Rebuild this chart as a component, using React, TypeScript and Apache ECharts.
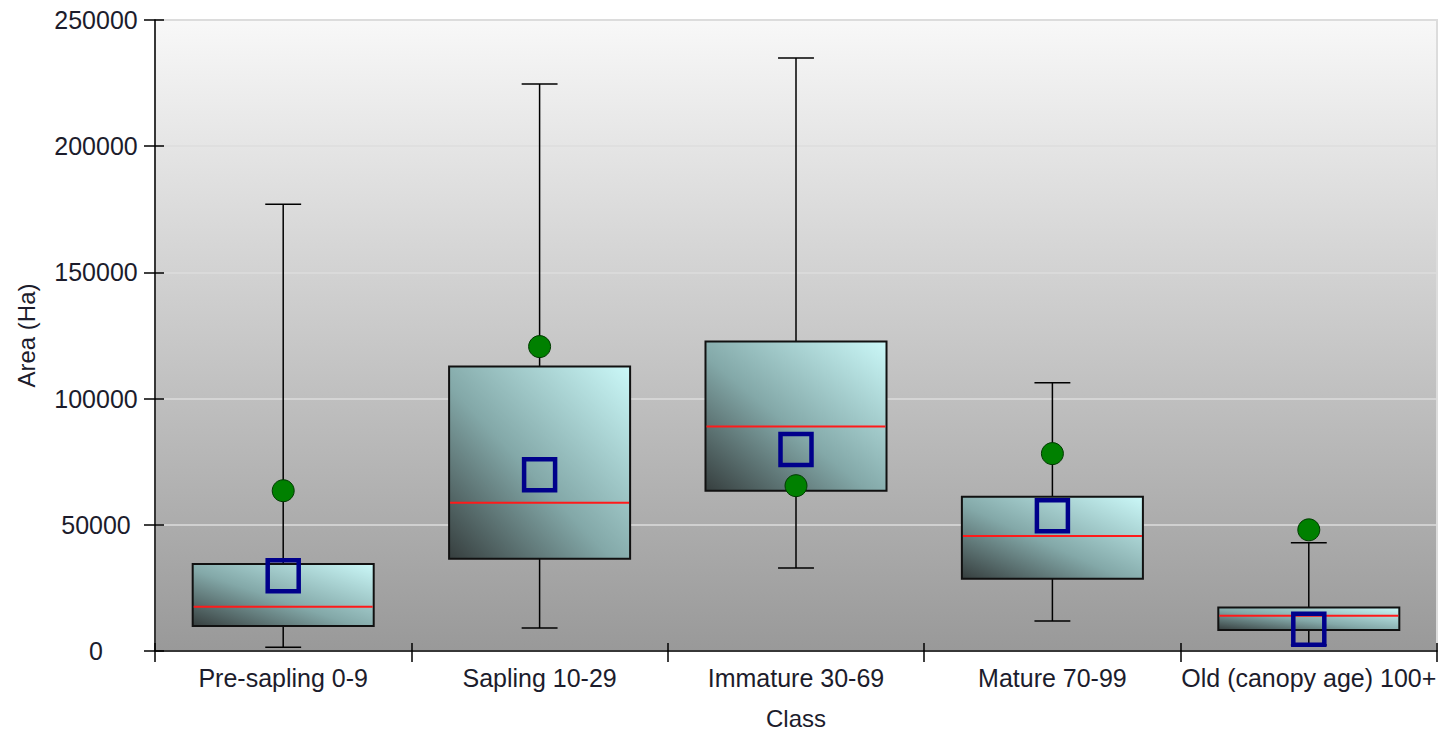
import React, { useEffect, useRef } from "react";
import * as echarts from "echarts";

const categories = ["Pre-sapling 0-9", "Sapling 10-29", "Immature 30-69", "Mature 70-99", "Old (canopy age) 100+"];
const whiskerLow = [1500, 9100, 32900, 11900, 2400];
const quartile1 = [9900, 36500, 63500, 28600, 8300];
const medians = [17500, 58700, 88900, 45600, 14000];
const quartile3 = [34500, 112700, 122600, 61100, 17200];
const whiskerHigh = [177000, 224600, 234900, 106300, 42900];
const greenPoints = [63500, 120600, 65500, 78200, 48000];
const bluePoints = [29800, 69800, 79800, 53600, 8600];
const yTicks = { min: 0, max: 250000, interval: 50000 };

const FONT = "'Liberation Sans', Arial, sans-serif";
const TEXT = "#1c1c2c";

export default function App() {
  const ref = useRef<HTMLDivElement>(null);
  useEffect(() => {
    if (!ref.current) return;
    const chart = echarts.init(ref.current, null, { renderer: "svg" });
    const boxData = categories.map((_, i) => [i, whiskerLow[i], quartile1[i], medians[i], quartile3[i], whiskerHigh[i]]);
    const boxFill = new echarts.graphic.LinearGradient(0, 1, 1, 0, [
      { offset: 0, color: "#363e3e" },
      { offset: 0.45, color: "#83a8a8" },
      { offset: 1, color: "#cbf8f8" },
    ]);
    const option: any = {
      animation: false,
      textStyle: { fontFamily: FONT },
      grid: {
        left: 155,
        right: 6,
        top: 20,
        bottom: 80,
        containLabel: false,
        outerBoundsMode: "none",
        show: true,
        borderColor: "#dcdcdc",
        borderWidth: 2,
        backgroundColor: new echarts.graphic.LinearGradient(0, 0, 0, 1, [
          { offset: 0, color: "#f8f8f8" },
          { offset: 1, color: "#999999" },
        ]),
      },
      xAxis: [
        {
          type: "category",
          data: categories,
          boundaryGap: true,
          name: "Class",
          nameLocation: "middle",
          nameGap: 55,
          nameTextStyle: { fontSize: 24, lineHeight: 24, color: TEXT, fontFamily: FONT },
          axisLine: { show: true, lineStyle: { color: "#000", width: 1.5 } },
          axisTick: { show: true, length: 11, alignWithLabel: false, lineStyle: { color: "#000", width: 1.5 } },
          axisLabel: { fontSize: 25, color: TEXT, margin: 14, fontFamily: FONT, interval: 0 },
          splitLine: { show: false },
        },
        {
          type: "category",
          data: categories,
          position: "bottom",
          boundaryGap: true,
          axisLine: { show: false },
          axisTick: { show: true, inside: true, length: 8, lineStyle: { color: "#000", width: 1.5 } },
          axisLabel: { show: false },
          splitLine: { show: false },
        },
      ],
      yAxis: [
        {
          type: "value",
          min: yTicks.min,
          max: yTicks.max,
          interval: yTicks.interval,
          name: "Area (Ha)",
          nameLocation: "middle",
          nameGap: 117,
          nameTextStyle: { fontSize: 24, color: TEXT, fontFamily: FONT },
          axisLine: { show: true, lineStyle: { color: "#000", width: 1.5 } },
          axisTick: { show: true, length: 11, lineStyle: { color: "#000", width: 1.5 } },
          axisLabel: {
            fontSize: 25,
            color: TEXT,
            margin: 59,
            align: "center",
            fontFamily: FONT,
            formatter: (v: number) => String(v),
          },
          splitLine: { show: true, lineStyle: { color: "#dcdcdc", width: 1.5 } },
        },
        {
          type: "value",
          min: yTicks.min,
          max: yTicks.max,
          interval: yTicks.interval,
          position: "left",
          axisLine: { show: false },
          axisTick: { show: true, inside: true, length: 9, lineStyle: { color: "#000", width: 1.5 } },
          axisLabel: { show: false },
          splitLine: { show: false },
        },
      ],
      series: [
        {
          type: "custom",
          data: boxData,
          encode: { x: 0, y: [1, 2, 3, 4, 5] },
          z: 2,
          renderItem: (params: any, api: any) => {
            const idx = api.value(0);
            const band = api.size([1, 0])[0];
            const bw = band * 0.706;
            const cw = band * 0.14;
            const pLow = api.coord([idx, api.value(1)]);
            const pQ1 = api.coord([idx, api.value(2)]);
            const pMed = api.coord([idx, api.value(3)]);
            const pQ3 = api.coord([idx, api.value(4)]);
            const pHigh = api.coord([idx, api.value(5)]);
            const cx = pQ1[0];
            const line = { stroke: "#000", lineWidth: 1.5 };
            return {
              type: "group",
              children: [
                { type: "line", shape: { x1: cx, y1: pHigh[1], x2: cx, y2: pQ3[1] }, style: line },
                { type: "line", shape: { x1: cx - cw / 2, y1: pHigh[1], x2: cx + cw / 2, y2: pHigh[1] }, style: line },
                { type: "line", shape: { x1: cx, y1: pQ1[1], x2: cx, y2: pLow[1] }, style: line },
                { type: "line", shape: { x1: cx - cw / 2, y1: pLow[1], x2: cx + cw / 2, y2: pLow[1] }, style: line },
                {
                  type: "rect",
                  shape: { x: cx - bw / 2, y: pQ3[1], width: bw, height: pQ1[1] - pQ3[1] },
                  style: { fill: boxFill, stroke: "#111", lineWidth: 2 },
                },
                {
                  type: "line",
                  shape: { x1: cx - bw / 2 + 1, y1: pMed[1], x2: cx + bw / 2 - 1, y2: pMed[1] },
                  style: { stroke: "#ff1a1a", lineWidth: 2 },
                },
              ],
            };
          },
        },
        {
          type: "scatter",
          data: greenPoints.map((v, i) => [i, v]),
          symbol: "circle",
          symbolSize: 22,
          z: 3,
          itemStyle: { color: "#008000", borderColor: "#003a00", borderWidth: 1, opacity: 1 },
        },
        {
          type: "scatter",
          data: bluePoints.map((v, i) => [i, v]),
          symbol: "rect",
          symbolSize: 31,
          z: 4,
          itemStyle: { color: "rgba(0,0,0,0)", borderColor: "#00008b", borderWidth: 4.5, opacity: 1 },
        },
      ],
    };
    chart.setOption(option);
    return () => chart.dispose();
  }, []);
  return (
    <div
      ref={ref}
      style={{ position: "absolute", left: 0, top: 0, width: 1443, height: 731, background: "#fff" }}
    />
  );
}
